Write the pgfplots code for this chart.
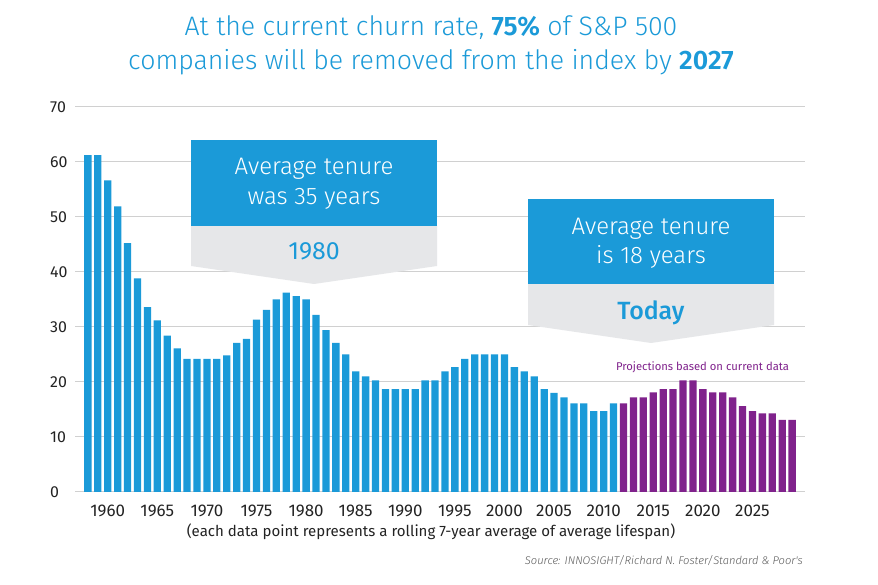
\documentclass[border=0pt]{standalone}
\usepackage{fontspec}
\setmainfont{Fira Sans}
\newfontfamily\light{Fira Sans Light}
\newfontfamily\semibold{Fira Sans SemiBold}
\newfontfamily\medium{Fira Sans Medium}
\usepackage{pgfplots}
\pgfplotsset{compat=1.18}
\definecolor{hpblue}{RGB}{27,154,216}
\definecolor{hppurple}{RGB}{128,34,140}
\definecolor{calgray}{RGB}{230,231,233}
\definecolor{gridgray}{RGB}{208,208,208}
\definecolor{txtdark}{RGB}{35,35,35}

\begin{document}
\begin{tikzpicture}
\path[use as bounding box] (0,0) rectangle (878bp,585bp);
\fill[white] (0,0) rectangle (878bp,585bp);
\begin{axis}[
  at={(75bp,93bp)}, anchor=south west, scale only axis,
  width=730bp, height=385.3bp,
  xmin=1956.7, xmax=2030.3, ymin=0, ymax=70,
  ytick={0,10,...,70}, xtick={1960,1965,...,2025},
  axis line style={draw=none}, major tick length=0pt,
  ymajorgrids, grid style={gridgray, line width=1bp},
  /pgf/number format/assume math mode=true,
  /pgf/number format/1000 sep={},
  xticklabel style={font=\fontsize{17}{17}\selectfont, text=txtdark, inner sep=0pt, anchor=north, yshift=-13bp},
  yticklabel style={font=\fontsize{16}{16}\selectfont, text=txtdark, inner sep=0pt, anchor=west, xshift=-25bp},
  clip=false,
]
\addplot[ybar, bar width=7.3bp, bar shift=0pt, fill=hpblue, draw=none] coordinates {
(1958,61.2) (1959,61.2) (1960,56.6) (1961,51.9) (1962,45.2) (1963,38.8)
(1964,33.6) (1965,31.2) (1966,28.4) (1967,26.1) (1968,24.2) (1969,24.2)
(1970,24.2) (1971,24.2) (1972,24.8) (1973,27.1) (1974,27.8) (1975,31.3)
(1976,33.1) (1977,35.0) (1978,36.2) (1979,35.6) (1980,35.0) (1981,32.2)
(1982,29.4) (1983,27.1) (1984,25.0) (1985,21.9) (1986,21.0) (1987,20.3)
(1988,18.7) (1989,18.7) (1990,18.7) (1991,18.7) (1992,20.3) (1993,20.3)
(1994,21.9) (1995,22.7) (1996,24.2) (1997,25.0) (1998,25.0) (1999,25.0)
(2000,25.0) (2001,22.7) (2002,21.9) (2003,21.0) (2004,18.7) (2005,18.0)
(2006,17.2) (2007,16.1) (2008,16.1) (2009,14.7) (2010,14.7) (2011,16.1)
};
\addplot[ybar, bar width=7.3bp, bar shift=0pt, fill=hppurple, draw=none] coordinates {
(2012,16.1) (2013,17.2) (2014,17.2) (2015,18.1) (2016,18.7) (2017,18.7)
(2018,20.3) (2019,20.3) (2020,18.7) (2021,18.1) (2022,18.1) (2023,17.2)
(2024,15.6) (2025,14.7) (2026,14.3) (2027,14.3) (2028,13.1) (2029,13.1)
};
\end{axis}
\begin{scope}[x=1bp, y=-1bp, shift={(0bp,585bp)}]
  % title
  \node[anchor=base, text=hpblue, font=\light\fontsize{26.8}{26.8}\selectfont, inner sep=0pt] at (431,36)
    {At the current churn rate, {\semibold 75\%} of S\&P 500};
  \node[anchor=base, text=hpblue, font=\light\fontsize{26.8}{26.8}\selectfont, inner sep=0pt] at (431,69.3)
    {companies will be removed from the index by {\semibold 2027}};
  % callout 1980
  \fill[calgray] (191,226) -- (437,226) -- (437,266) -- (314,284) -- (191,266) -- cycle;
  \fill[hpblue] (191,140) rectangle (437,226);
  \node[anchor=base, text=white, font=\light\fontsize{24}{24}\selectfont, inner sep=0pt] at (314,175) {Average tenure};
  \node[anchor=base, text=white, font=\light\fontsize{24}{24}\selectfont, inner sep=0pt] at (314,205) {was 35 years};
  \node[anchor=base, text=hpblue, font=\fontsize{25}{25}\selectfont, inner sep=0pt] at (314,260) {1980};
  % callout today
  \fill[calgray] (528,284) -- (774,284) -- (774,325) -- (651,343) -- (528,325) -- cycle;
  \fill[hpblue] (528,199) rectangle (774,284);
  \node[anchor=base, text=white, font=\light\fontsize{24}{24}\selectfont, inner sep=0pt] at (651,234.3) {Average tenure};
  \node[anchor=base, text=white, font=\light\fontsize{24}{24}\selectfont, inner sep=0pt] at (651,264) {is 18 years};
  \node[anchor=base, text=hpblue, font=\medium\fontsize{25}{25}\selectfont, inner sep=0pt] at (651,320) {Today};
  % projections
  \node[anchor=base, text=hppurple, font=\fontsize{11.3}{11.3}\selectfont, inner sep=0pt] at (702.5,371) {Projections based on current data};
  % x label
  \node[anchor=base, text=txtdark, font=\fontsize{15.1}{15.1}\selectfont, inner sep=0pt] at (431,537)
    {(each data point represents a rolling 7-year average of average lifespan)};
  % source
  \node[anchor=base east, text=black!65, font=\light\itshape\fontsize{11.2}{11.2}\selectfont, inner sep=0pt] at (803,565)
    {Source: INNOSIGHT/Richard N. Foster/Standard \& Poor's};
\end{scope}
\end{tikzpicture}
\end{document}
